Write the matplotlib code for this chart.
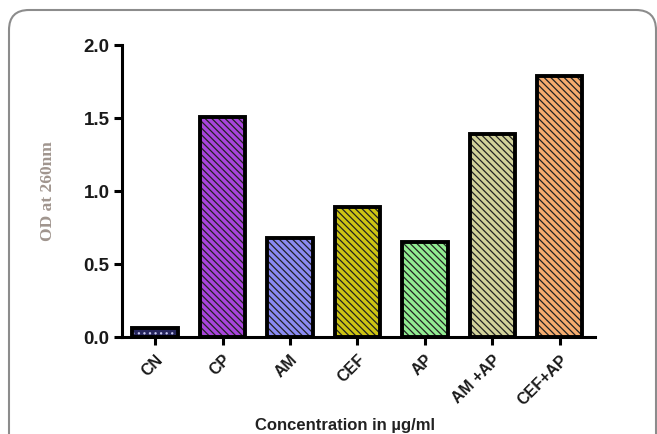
import matplotlib.pyplot as plt
from matplotlib.patches import FancyBboxPatch

plt.rcParams['hatch.linewidth'] = 0.9

categories = ['CN', 'CP', 'AM', 'CEF', 'AP', 'AM +AP', 'CEF+AP']
od_values = [0.06, 1.51, 0.68, 0.89, 0.65, 1.39, 1.79]
bar_colors = ['#26265e', '#a844dc', '#8a8af4', '#cdc412', '#92ec92', '#d2d29a', '#f6ac6e']

fig = plt.figure(figsize=(6.57, 4.34), dpi=100)

# rounded frame around the figure (screenshot border)
bg = fig.add_axes([0, 0, 1, 1])
bg.set_xlim(0, 657)
bg.set_ylim(434, 0)
bg.axis('off')
bg.add_patch(FancyBboxPatch((9, 10), 647, 500, boxstyle='round,pad=0,rounding_size=20',
                            fill=False, edgecolor='#8c8c8c', linewidth=1.5))

ax = fig.add_axes([0.1857, 0.2235, 0.7199, 0.6728])
x = list(range(len(categories)))
width = 0.67
for i in x:
    if i == 0:
        ax.bar(i, od_values[i], width=width, color=bar_colors[i], edgecolor='#c8c8f0',
               hatch='...', linewidth=0, zorder=2)
    else:
        ax.bar(i, od_values[i], width=width, color=bar_colors[i], edgecolor='#222222',
               hatch='\\' * 5, linewidth=0, zorder=2)
    ax.bar(i, od_values[i], width=width, fill=False, edgecolor='black', linewidth=2.8, zorder=3)

ax.set_xlim(-0.49, 6.52)
ax.set_ylim(0, 2.0)
ax.set_yticks([0.0, 0.5, 1.0, 1.5, 2.0])
ax.set_yticklabels(['0.0', '0.5', '1.0', '1.5', '2.0'], fontsize=13.5, fontweight='bold',
                   family='Liberation Sans', color='#1a1a1a')
ax.set_xticks(x)
ax.set_xticklabels(categories, rotation=45, ha='right', rotation_mode='anchor',
                   fontsize=11.5, fontweight='bold', family='Liberation Sans', color='#1a1a1a')
ax.spines['top'].set_visible(False)
ax.spines['right'].set_visible(False)
ax.spines['left'].set_linewidth(2.2)
ax.spines['bottom'].set_linewidth(2.2)
ax.tick_params(axis='y', length=6, width=2.2, direction='out', pad=3)
ax.tick_params(axis='x', length=6, width=2.2, direction='out', pad=5)

fig.text(0.073, 0.56, 'OD at 260nm', rotation=90, ha='center', va='center',
         fontsize=12.5, fontweight='bold', family='Liberation Serif', color='#a0958e')
fig.text(0.525, 0.02, 'Concentration in \u00b5g/ml', ha='center', va='center',
         fontsize=12, fontweight='bold', family='Liberation Sans', color='#222222')

fig.savefig('out.png', dpi=100)
